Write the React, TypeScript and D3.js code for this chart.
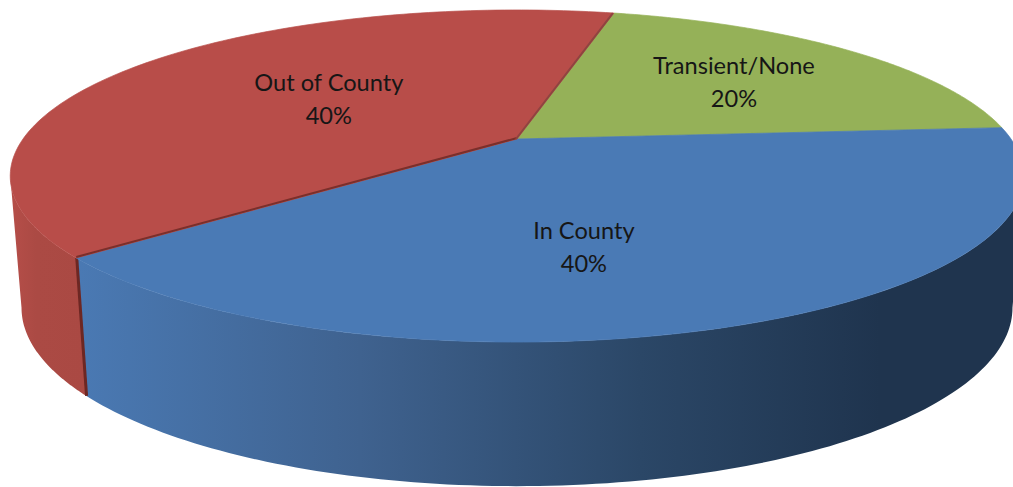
import React from "react";
import * as d3 from "d3";

const categories = ["Transient/None", "In County", "Out of County"];
const shares = [20, 40, 40];
const labelRadii = [0.616, 0.605, 0.486];
const labelShifts = [1, 11, 2];

const W = 1013, H = 487;
const CX = 517, CY = 139, RX = 494, RY = 157.8, K = 0.223;
const BASE_CY = 268, BASE_RX = 483, BASE_RY = 169.5;
const TOP_FILL = ["#95b158", "#4a7ab5", "#b84d49"];
const rad = (d: number) => (d * Math.PI) / 180;

const project = (a: number, r = 1, base = false): [number, number] => {
  const u = r * Math.sin(a), v = -r * Math.cos(a);
  const f = 1 / (1 - K * v);
  return base
    ? [CX + BASE_RX * u * f, BASE_CY + BASE_RY * v * f]
    : [CX + RX * u * f, CY + RY * v * f];
};

const line = d3.line();
const sweep = (a0: number, a1: number, base = false) =>
  d3.range(0, 121).map((i) => project(a0 + ((a1 - a0) * i) / 120, 1, base));

const slices = d3.pie<number>().sort(null).startAngle(rad(13.8)).endAngle(rad(373.8))(shares);

const topPath = (a0: number, a1: number) =>
  (line([[CX, CY], ...sweep(a0, a1)]) as string) + "Z";
const wallPath = (a0: number, a1: number) =>
  (line([...sweep(a0, a1), ...sweep(a1, a0, true)]) as string) + "Z";

// silhouette angles, where the rim is tangent to the vertical wall edges
const tangentRight = Math.PI - Math.acos(K);
const tangentLeft = Math.PI + Math.acos(K);

export default function App() {
  const [green, blue, red] = slices;
  const seam = blue.endAngle;
  return (
    <svg
      width={W}
      height={H}
      viewBox={`0 0 ${W} ${H}`}
      style={{ position: "absolute", left: 0, top: 0, background: "#fff" }}
    >
      <defs>
        <linearGradient id="blueWall" gradientUnits="userSpaceOnUse" x1={80} x2={880} y1={0} y2={0}>
          <stop offset="0" stopColor="#4a79b3" />
          <stop offset="0.35" stopColor="#3f628f" />
          <stop offset="0.7" stopColor="#2b4767" />
          <stop offset="1" stopColor="#1f344e" />
        </linearGradient>
        <linearGradient id="redWall" gradientUnits="userSpaceOnUse" x1={10} x2={85} y1={0} y2={0}>
          <stop offset="0" stopColor="#b64e49" />
          <stop offset="0.35" stopColor="#ab4a44" />
          <stop offset="1" stopColor="#aa4943" />
        </linearGradient>
      </defs>

      <path d={wallPath(seam, tangentLeft)} fill="url(#redWall)" />
      <path d={wallPath(tangentRight, seam)} fill="url(#blueWall)" />
      <path
        d={line([project(seam), project(seam, 1, true)]) as string}
        fill="none"
        stroke="#6d2723"
        strokeWidth={3}
        transform="translate(0.5,0)"
      />

      {slices.map((s) => (
        <path
          key={s.index}
          d={topPath(s.startAngle, s.endAngle)}
          fill={TOP_FILL[s.index]}
          stroke={TOP_FILL[s.index]}
          strokeWidth={0.7}
        />
      ))}

      <path
        d={line([project(red.startAngle), [CX, CY]]) as string}
        fill="none"
        stroke="#7a2f2b"
        strokeWidth={2}
        transform="translate(0,-1)"
      />
      <path
        d={line([project(red.endAngle), [CX, CY]]) as string}
        fill="none"
        stroke="#8f4440"
        strokeWidth={2}
        transform="translate(-1,0)"
      />

      {slices.map((s, i) => {
        const mid = (s.startAngle + s.endAngle) / 2;
        const [x, y] = project(mid + rad(labelShifts[i]), labelRadii[i]);
        return (
          <text
            key={categories[i]}
            x={x}
            textAnchor="middle"
            fontFamily="Lato, Carlito, sans-serif"
            fontSize={23.6}
            fill="#161616"
          >
            <tspan x={x} y={y - 8}>{categories[i]}</tspan>
            <tspan x={x} y={y + 25}>{`${shares[i]}%`}</tspan>
          </text>
        );
      })}
    </svg>
  );
}
